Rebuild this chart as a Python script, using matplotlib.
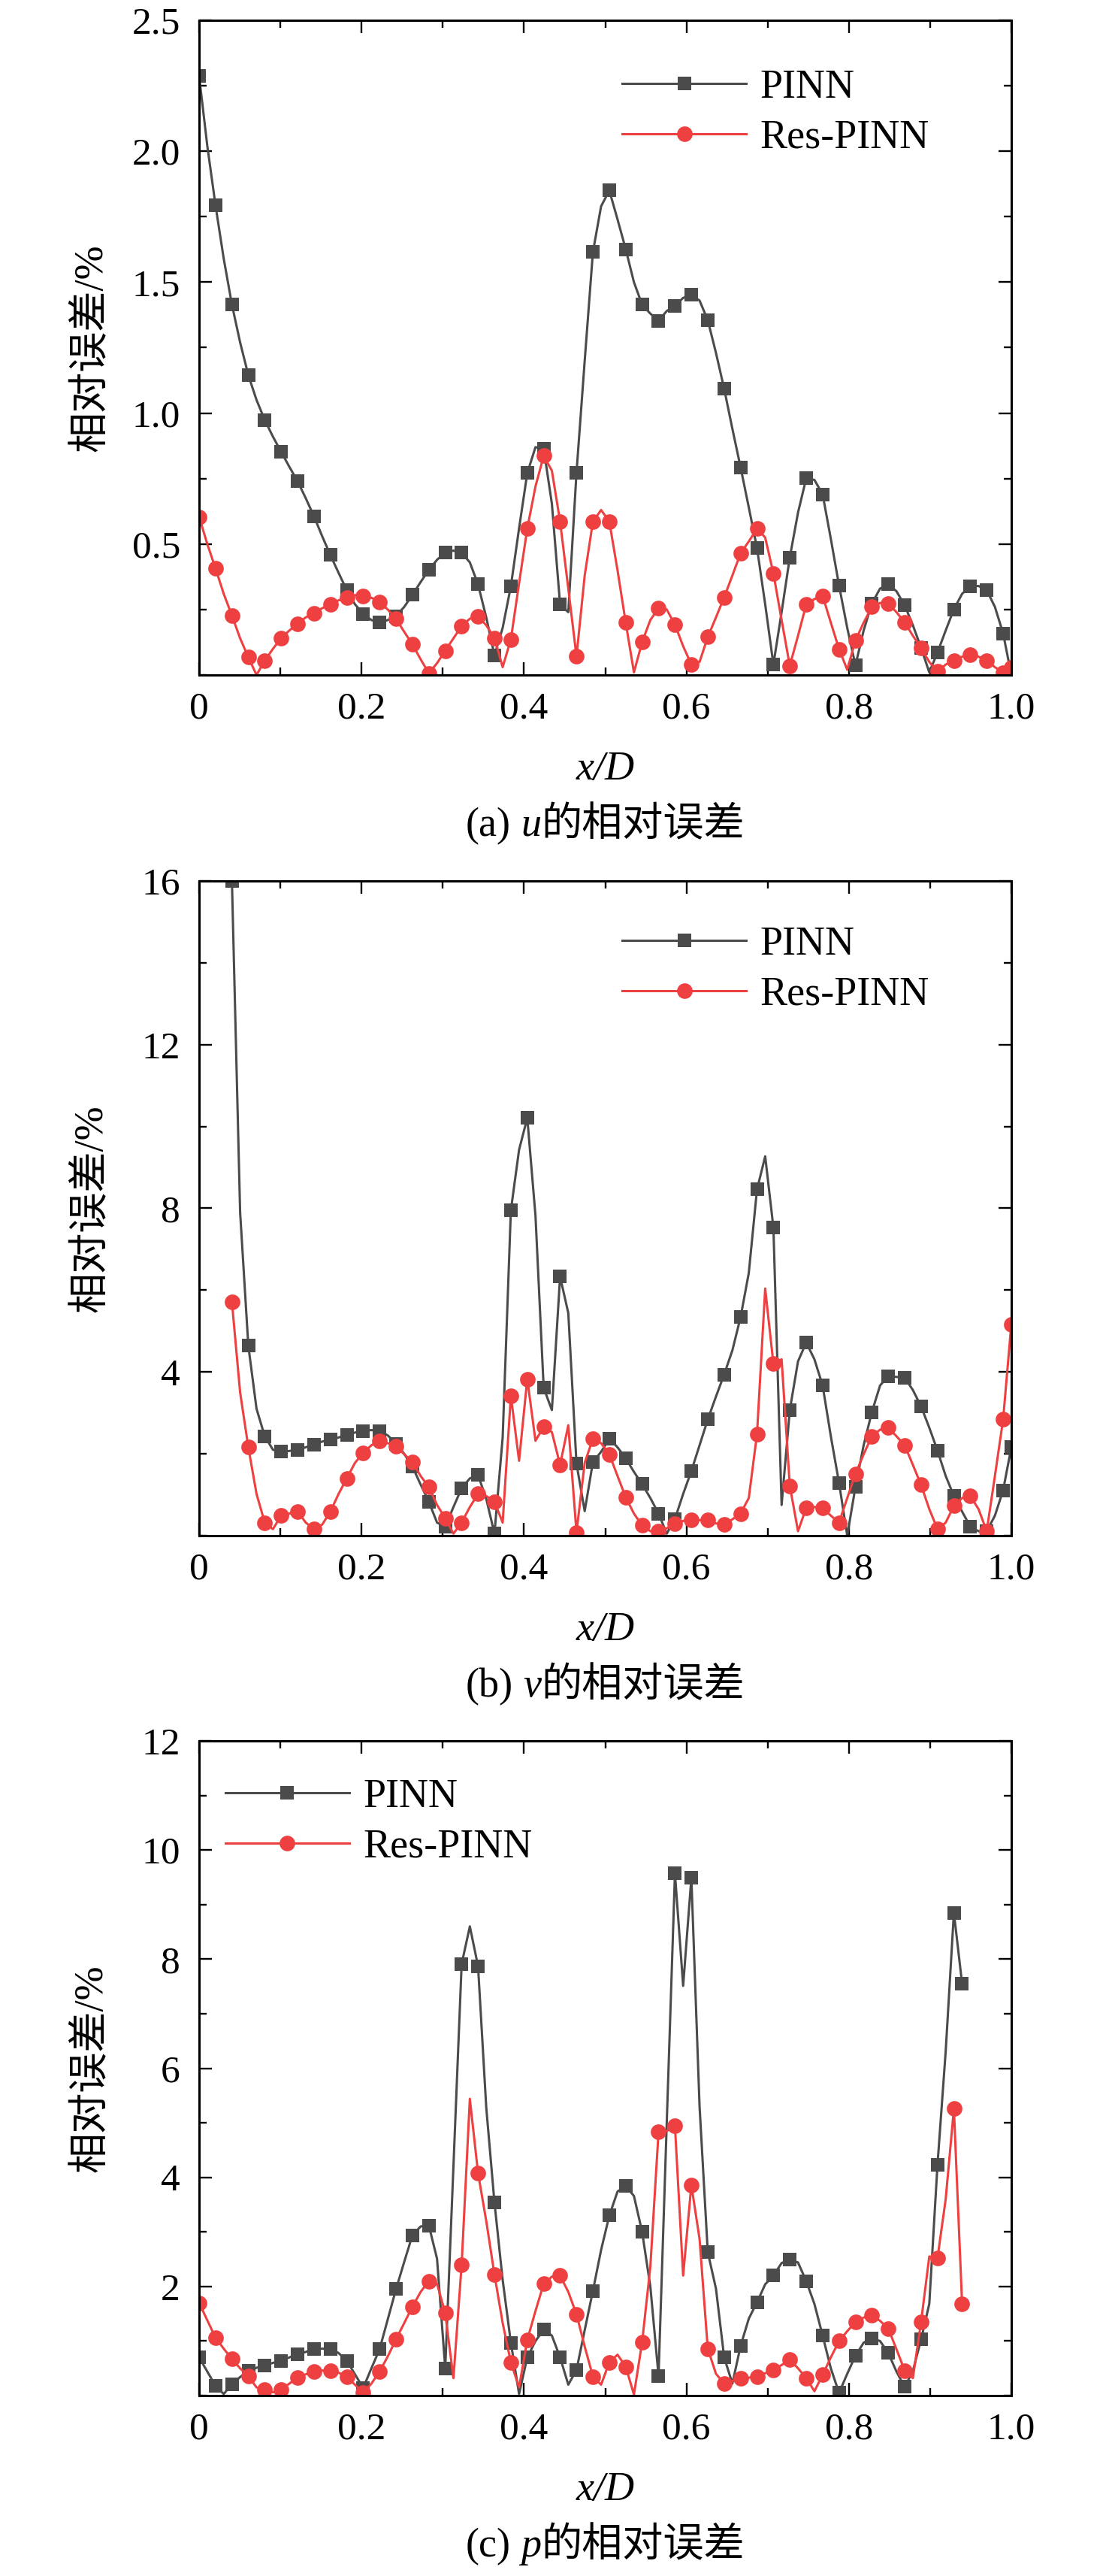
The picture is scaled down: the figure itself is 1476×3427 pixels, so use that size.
import numpy as np
import matplotlib
matplotlib.use("Agg")
import matplotlib.pyplot as plt
from matplotlib.ticker import MultipleLocator

plt.rcParams['font.family'] = ['Liberation Serif', 'Noto Sans CJK SC']

# x/D sampled at 100 points; markers on every second sample
x_all = np.linspace(0, 1, 100)

# (a) u
pinn_u = [2.287, 2.02, 1.793, 1.59, 1.414, 1.27, 1.145, 1.05, 0.974, 0.91,
          0.852, 0.795, 0.740, 0.675, 0.606, 0.53, 0.458, 0.39, 0.324, 0.27,
          0.233, 0.21, 0.200, 0.21, 0.225, 0.26, 0.306, 0.355, 0.401, 0.44,
          0.467, 0.475, 0.467, 0.43, 0.346, 0.22, 0.075, 0.18, 0.339, 0.56,
          0.771, 0.87, 0.864, 0.654, 0.269, 0.24, 0.773, 1.2, 1.615, 1.79,
          1.850, 1.74, 1.626, 1.50, 1.414, 1.38, 1.353, 1.39, 1.410, 1.44,
          1.451, 1.43, 1.355, 1.23, 1.093, 0.94, 0.793, 0.64, 0.485, 0.27,
          0.040, 0.24, 0.449, 0.62, 0.751, 0.745, 0.690, 0.52, 0.342, 0.18,
          0.037, 0.17, 0.273, 0.33, 0.346, 0.32, 0.266, 0.19, 0.104, 0.01,
          0.086, 0.17, 0.251, 0.31, 0.339, 0.34, 0.324, 0.26, 0.159, 0.0]
res_u = [0.604, 0.50, 0.407, 0.31, 0.227, 0.14, 0.068, 0.0, 0.055, 0.10,
         0.141, 0.17, 0.196, 0.22, 0.236, 0.255, 0.269, 0.285, 0.297, 0.305,
         0.302, 0.295, 0.278, 0.25, 0.214, 0.165, 0.117, 0.06, 0.007, 0.045,
         0.093, 0.14, 0.187, 0.215, 0.223, 0.19, 0.141, 0.03, 0.136, 0.35,
         0.559, 0.72, 0.837, 0.78, 0.586, 0.33, 0.071, 0.38, 0.586, 0.63,
         0.586, 0.40, 0.200, 0.01, 0.126, 0.21, 0.255, 0.25, 0.192, 0.11,
         0.040, 0.05, 0.145, 0.22, 0.297, 0.38, 0.465, 0.51, 0.559, 0.525,
         0.388, 0.21, 0.035, 0.15, 0.269, 0.29, 0.302, 0.20, 0.099, 0.02,
         0.132, 0.20, 0.260, 0.275, 0.273, 0.24, 0.201, 0.15, 0.104, 0.05,
         0.013, 0.04, 0.055, 0.07, 0.077, 0.07, 0.055, 0.03, 0.01, 0.03]

# (b) v, starts at the 5th sample
pinn_v = [16.0, 7.9, 4.64, 3.1, 2.43, 2.1,
          2.05, 2.07, 2.10, 2.16, 2.23, 2.3, 2.35, 2.4, 2.46, 2.52,
          2.56, 2.58, 2.56, 2.45, 2.25, 2.0, 1.69, 1.25, 0.83, 0.32,
          0.22, 0.7, 1.16, 1.4, 1.48, 0.9, 0.05, 2.4, 7.95, 9.43,
          10.21, 7.82, 3.61, 3.07, 6.33, 5.44, 1.76, 0.6, 1.80, 2.05,
          2.37, 2.16, 1.89, 1.56, 1.26, 0.92, 0.54, 0.05, 0.41, 1.02,
          1.58, 2.21, 2.84, 3.40, 3.94, 4.53, 5.34, 6.42, 8.46, 9.27,
          7.53, 0.75, 3.07, 4.26, 4.72, 4.31, 3.67, 2.43, 1.29, 0.0,
          1.19, 2.21, 3.02, 3.67, 3.90, 3.88, 3.86, 3.56, 3.16, 2.64,
          2.08, 1.46, 0.97, 0.59, 0.22, 0.11, 0.11, 0.49, 1.11, 2.16]
res_v = [5.71, 3.5, 2.16, 1.02, 0.32, 0.16,
         0.49, 0.54, 0.59, 0.32, 0.16, 0.27, 0.59, 1.02, 1.40, 1.78,
         2.02, 2.21, 2.32, 2.26, 2.19, 1.99, 1.80, 1.46, 1.19, 0.75,
         0.43, 0.05, 0.32, 0.70, 1.02, 0.97, 0.83, 0.32, 3.42, 1.83,
         3.83, 2.32, 2.66, 2.53, 1.73, 2.70, 0.08, 1.78, 2.37, 2.26,
         1.99, 1.46, 0.94, 0.54, 0.25, 0.11, 0.11, 0.18, 0.30, 0.36,
         0.38, 0.38, 0.38, 0.30, 0.27, 0.40, 0.54, 0.92, 2.48, 6.04,
         4.20, 4.31, 1.22, 0.11, 0.68, 0.70, 0.68, 0.49, 0.32, 0.92,
         1.51, 1.99, 2.43, 2.59, 2.64, 2.43, 2.21, 1.73, 1.24, 0.65,
         0.16, 0.32, 0.73, 0.92, 0.97, 0.65, 0.11, 1.46, 2.84, 5.17]

# (c) p, ends at the 94th sample
pinn_p = [0.70, 0.44, 0.18, 0.03, 0.21, 0.34, 0.45, 0.51, 0.55, 0.60,
          0.64, 0.70, 0.76, 0.80, 0.85, 0.86, 0.86, 0.78, 0.64, 0.39,
          0.14, 0.50, 0.85, 1.40, 1.95, 2.45, 2.94, 3.10, 3.12, 2.51,
          0.50, 4.20, 7.91, 8.60, 7.87, 5.28, 3.54, 2.12, 0.97, 0.03,
          0.70, 1.00, 1.21, 1.10, 0.70, 0.20, 0.47, 1.20, 1.92, 2.67,
          3.30, 3.74, 3.84, 3.66, 3.00, 2.00, 0.36, 5.00, 9.57, 7.51,
          9.49, 5.30, 2.63, 1.96, 0.70, 0.22, 0.91, 1.41, 1.71, 2.04,
          2.20, 2.43, 2.49, 2.44, 2.10, 1.68, 1.10, 0.50, 0.05, 0.40,
          0.73, 0.97, 1.05, 1.00, 0.78, 0.44, 0.16, 0.45, 1.03, 1.68,
          4.23, 6.31, 8.85, 7.55]
res_p = [1.70, 1.38, 1.06, 0.86, 0.67, 0.50, 0.36, 0.15, 0.11, 0.06,
         0.11, 0.22, 0.33, 0.39, 0.44, 0.46, 0.46, 0.42, 0.34, 0.20,
         0.05, 0.22, 0.44, 0.72, 1.03, 1.33, 1.63, 1.90, 2.10, 2.05,
         1.51, 0.32, 2.40, 5.44, 4.08, 3.20, 2.22, 1.33, 0.61, 0.15,
         1.02, 1.55, 2.05, 2.18, 2.20, 1.90, 1.49, 0.90, 0.35, 0.20,
         0.61, 0.75, 0.53, 0.02, 0.98, 2.36, 4.83, 4.85, 4.94, 2.20,
         3.86, 2.87, 0.86, 0.40, 0.22, 0.27, 0.31, 0.33, 0.35, 0.41,
         0.47, 0.56, 0.66, 0.50, 0.32, 0.08, 0.38, 0.70, 1.00, 1.18,
         1.35, 1.43, 1.48, 1.37, 1.23, 0.85, 0.46, 0.32, 1.35, 2.55,
         2.52, 3.60, 5.26, 1.68]

xticks = [0, 0.2, 0.4, 0.6, 0.8, 1.0]
xticklabels = ['0', '0.2', '0.4', '0.6', '0.8', '1.0']

panels = [
    dict(x=x_all, pinn=pinn_u, res=res_u, ylim=2.5, yticks=[0.5, 1.0, 1.5, 2.0, 2.5],
         ylabels=['0.5', '1.0', '1.5', '2.0', '2.5'], yminor=0.25,
         var='u', tag='(a)', leg=(0.521, 0.926)),
    dict(x=x_all[4:], pinn=pinn_v, res=res_v, ylim=16, yticks=[4, 8, 12, 16],
         ylabels=['4', '8', '12', '16'], yminor=2,
         var='v', tag='(b)', leg=(0.521, 0.932)),
    dict(x=x_all[:94], pinn=pinn_p, res=res_p, ylim=12, yticks=[2, 4, 6, 8, 10, 12],
         ylabels=['2', '4', '6', '8', '10', '12'], yminor=1,
         var='p', tag='(c)', leg=(0.032, 0.943)),
]

W, H = 1476, 3427
fig = plt.figure(figsize=(W / 100, H / 100), dpi=100)

gray = '#4b4b4b'
red = '#ee4040'
fs_tick = 37
fs_lab = 39

ax_left, ax_w, ax_h = 265, 1081, 871
ax_tops = [27, 1172, 2316]


def marks(n):
    idx = list(range(0, n, 2))
    if (n - 1) % 2:
        idx.append(n - 1)
    return idx


def rich_caption(ax, y_off, parts, size):
    # draw text pieces side by side, centred under the axes
    r = fig.canvas.get_renderer()
    objs, widths = [], []
    for s, style in parts:
        t = fig.text(0, 0, s, fontsize=size, fontstyle=style, ha='left', va='baseline')
        objs.append(t)
        widths.append(t.get_window_extent(renderer=r).width)
    gap = 0.25 * size * 100 / 72
    total = sum(widths) + gap
    bb = ax.get_window_extent(renderer=r)
    cx = (bb.x0 + bb.x1) / 2
    cur = cx - total / 2
    ybase = bb.y0 - y_off
    for i, (t, w) in enumerate(zip(objs, widths)):
        t.set_position((cur / W, ybase / H))
        cur += w + (gap if i == 0 else 0)


for p, top in zip(panels, ax_tops):
    ax = fig.add_axes([ax_left / W, 1 - (top + ax_h) / H, ax_w / W, ax_h / H])
    n = len(p['pinn'])
    ax.plot(p['x'], p['pinn'], color=gray, lw=2.2, marker='s', ms=13.2,
            markevery=marks(n), mew=0, label='PINN')
    ax.plot(p['x'], p['res'], color=red, lw=2.2, marker='o', ms=14.9,
            markevery=marks(n), mew=0, label='Res-PINN')
    ax.set_xlim(0, 1)
    ax.set_ylim(0, p['ylim'])
    ax.set_xticks(xticks)
    ax.set_xticklabels(xticklabels)
    ax.xaxis.set_minor_locator(MultipleLocator(0.1))
    ax.set_yticks(p['yticks'])
    ax.set_yticklabels(p['ylabels'])
    ax.yaxis.set_minor_locator(MultipleLocator(p['yminor']))
    ax.tick_params(which='both', direction='in', top=True, right=True, width=1.7)
    ax.tick_params(which='major', length=12)
    ax.tick_params(which='minor', length=7)
    ax.tick_params(axis='x', labelsize=fs_tick, pad=16)
    ax.tick_params(axis='y', labelsize=fs_tick, pad=18)
    for s in ax.spines.values():
        s.set_linewidth(2.2)

    ax.legend(loc='upper left', bbox_to_anchor=p['leg'], frameon=False,
              fontsize=39, borderpad=0, borderaxespad=0, handlelength=3.05,
              handletextpad=0.34, labelspacing=0.30, numpoints=1)

    ax.text(-142 / ax_w, 0.5, '相对误差/%', transform=ax.transAxes, rotation=90,
            ha='center', va='center', fontsize=fs_lab)
    ax.text(0.5, -126 / ax_h, 'x/D', transform=ax.transAxes, ha='center',
            va='center', fontsize=fs_lab, fontstyle='italic')
    rich_caption(ax, 214, [(p['tag'], 'normal'), (p['var'], 'italic'),
                           ('的相对误差', 'normal')], fs_lab)

fig.savefig('out.png', dpi=100)
